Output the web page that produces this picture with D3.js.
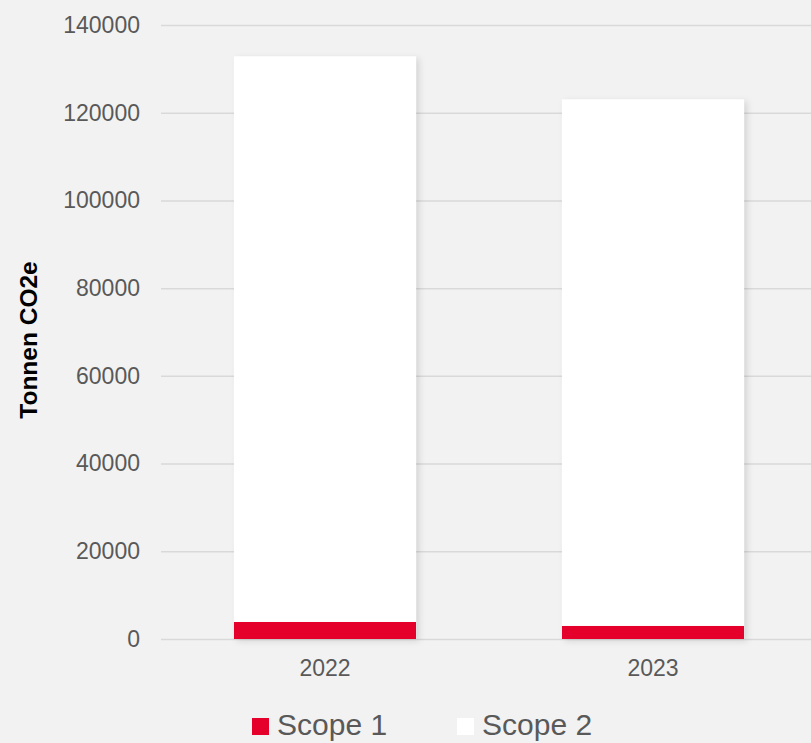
<!DOCTYPE html>
<html>
<head>
<meta charset="utf-8">
<script src="https://cdn.jsdelivr.net/npm/d3@7"></script>
<style>
  body { margin: 0; background: #f2f2f2; }
  svg { display: block; font-family: "Liberation Sans", Arial, sans-serif; }
  .tick text { fill: #595959; }
</style>
</head>
<body>
<svg width="811" height="743"></svg>
<script>
const years = ['2022', '2023'];
const scope1 = [3900, 3000];
const scope2 = [128900, 120000];
const yTicks = [0, 20000, 40000, 60000, 80000, 100000, 120000, 140000];
const seriesNames = ['Scope 1', 'Scope 2'];
const seriesColors = ['#e4002b', '#ffffff'];

const svg = d3.select('svg');
const width = +svg.attr('width');
const margin = { left: 161, top: 25, bottom: 639 };

const xScale = d3.scaleBand()
  .domain(years)
  .range([margin.left, margin.left + 656])
  .paddingInner(0.445)
  .paddingOuter(0.2225);

const yScale = d3.scaleLinear()
  .domain([0, 140000])
  .range([margin.bottom, margin.top]);

// soft shadow behind the bars
const defs = svg.append('defs');
defs.append('filter')
  .attr('id', 'shadow')
  .attr('x', '-10%').attr('y', '-10%')
  .attr('width', '130%').attr('height', '130%')
  .append('feDropShadow')
  .attr('dx', 3).attr('dy', 2)
  .attr('stdDeviation', 3)
  .attr('flood-color', '#000')
  .attr('flood-opacity', 0.13);

const yAxis = d3.axisLeft(yScale)
  .tickValues(yTicks)
  .tickFormat(d3.format('d'))
  .tickSize(-(width - margin.left))
  .tickPadding(21);

const yAxisG = svg.append('g')
  .attr('transform', `translate(${margin.left},0)`)
  .call(yAxis);
yAxisG.select('.domain').remove();
yAxisG.selectAll('.tick line')
  .attr('stroke', '#d9d9d9')
  .attr('stroke-width', 1.5);
yAxisG.selectAll('.tick text')
  .attr('font-size', 23);

const stacked = years.map((y, i) => ({ year: y, s1: scope1[i], s2: scope2[i] }));
const stack = d3.stack().keys(['s1', 's2'])(stacked);

const bars = svg.append('g').attr('filter', 'url(#shadow)');
bars.selectAll('rect.total')
  .data(stacked)
  .enter().append('rect')
  .attr('x', d => xScale(d.year))
  .attr('width', xScale.bandwidth())
  .attr('y', d => yScale(d.s1 + d.s2))
  .attr('height', d => yScale(0) - yScale(d.s1 + d.s2))
  .attr('fill', '#fff');

svg.append('g')
  .selectAll('g')
  .data(stack)
  .enter().append('g')
  .attr('fill', (d, i) => seriesColors[i])
  .selectAll('rect')
  .data(d => d)
  .enter().append('rect')
  .attr('x', d => xScale(d.data.year))
  .attr('width', xScale.bandwidth())
  .attr('y', d => yScale(d[1]))
  .attr('height', d => yScale(d[0]) - yScale(d[1]));

const xAxisG = svg.append('g')
  .attr('transform', `translate(0,${margin.bottom})`)
  .call(d3.axisBottom(xScale).tickSize(0).tickPadding(21));
xAxisG.select('.domain').remove();
xAxisG.selectAll('.tick text').attr('font-size', 23);

svg.append('text')
  .attr('transform', `translate(37,340) rotate(-90)`)
  .attr('text-anchor', 'middle')
  .attr('font-size', 24.5)
  .attr('font-weight', 'bold')
  .attr('fill', '#000')
  .text('Tonnen CO2e');

// legend
const legendX = [252, 457];
const legend = svg.append('g');
const items = legend.selectAll('g')
  .data(seriesNames)
  .enter().append('g')
  .attr('transform', (d, i) => `translate(${legendX[i]},718)`);
items.append('rect')
  .attr('width', 17).attr('height', 17)
  .attr('fill', (d, i) => seriesColors[i]);
items.append('text')
  .attr('x', 25).attr('y', 17)
  .attr('font-size', 30)
  .attr('fill', '#595959')
  .text(d => d);
</script>
</body>
</html>
